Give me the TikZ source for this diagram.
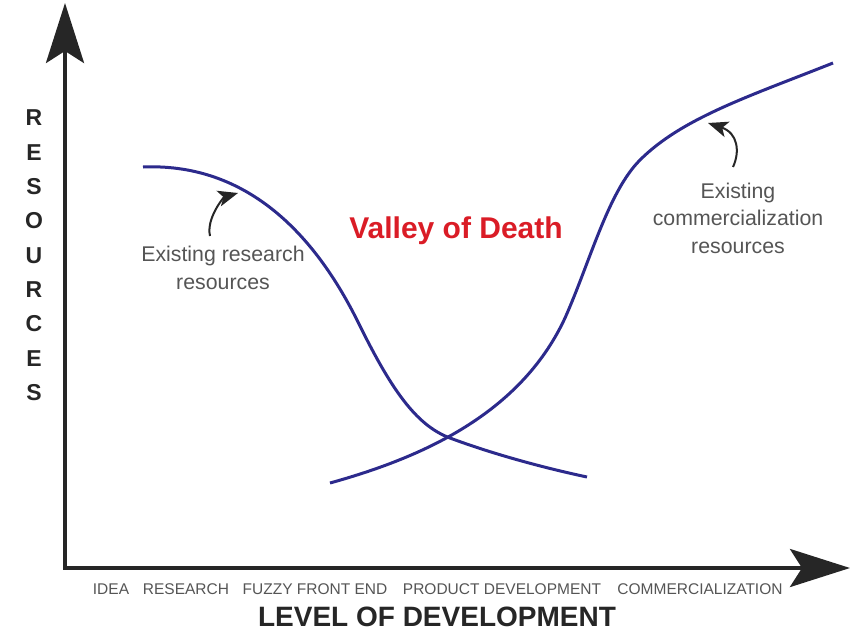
\documentclass[tikz,border=0pt]{standalone}
\usepackage{fontspec}
\setmainfont{Liberation Sans}
\usetikzlibrary{arrows.meta}
\definecolor{curveblue}{RGB}{44,42,140}
\definecolor{valleyred}{RGB}{218,28,38}
\definecolor{txtgray}{RGB}{85,85,85}
\tikzset{
  axis/.style={line width=4pt, draw=black!85, -{Stealth[length=60pt,width=38pt,inset=12pt]}},
  rescurve/.style={line width=3pt, draw=curveblue},
  note/.style={text=txtgray, font=\fontsize{21.3}{27.5}\selectfont, align=center, inner sep=0pt},
  tick/.style={text=txtgray, font=\fontsize{15.5}{18}\selectfont, inner sep=0pt, anchor=base},
  vlet/.style={font=\fontsize{23}{23}\bfseries\selectfont, text=black!85, inner sep=0pt},
  pointer/.style={line width=2pt, draw=black!85, -{Stealth[length=20pt,width=16pt,inset=5pt]}}
}
\begin{document}
\begin{tikzpicture}[x=1pt,y=-1pt]
\useasboundingbox (0,0) rectangle (851,632);
% axes
\coordinate (O) at (65,568);
\coordinate (ytop) at (65,3);
\coordinate (xend) at (850,568);
\draw[axis] ([yshift=2pt]O) -- (ytop);
\draw[axis] ([xshift=-2pt]O) -- (xend);
% curves
\coordinate (r0) at (143,167);
\coordinate (r1) at (358,322);
\coordinate (cross) at (450,438);
\coordinate (r3) at (587,477);
\draw[rescurve] (r0) .. controls (240,163) and (310,225) .. (r1)
  .. controls (390,387) and (415,425) .. (cross)
  .. controls (490,453) and (540,467) .. (r3);
\coordinate (c0) at (330,483);
\coordinate (c1) at (565,318);
\coordinate (c3) at (640,160);
\coordinate (c4) at (833,63);
\draw[rescurve] (c0) .. controls (420,458) and (520,415) .. (c1)
  .. controls (590,262) and (608,192) .. (c3)
  .. controls (682,118) and (750,96) .. (c4);
% labels
\node[font=\fontsize{30}{31}\bfseries\selectfont, text=valleyred, inner sep=0pt] (valley) at (456,231) {Valley of Death};
\node[note] (resnote) at (223,268) {Existing research\\resources};
\node[note] (comnote) at (738,218) {Existing\\commercialization\\resources};
\coordinate (restail) at (210,236);
\coordinate (restip) at (238,193);
\coordinate (comtail) at (733,167);
\coordinate (comtip) at (708,123);
\draw[pointer] (restail) .. controls +(-4,-18) and +(-14,4) .. (restip);
\draw[pointer] (comtail) .. controls +(7,-15) and +(30,10) .. (comtip);
% ticks
\node[tick] (t1) at (111,594) {IDEA};
\node[tick] (t2) at (186,594) {RESEARCH};
\node[tick] (t3) at (315,594) {FUZZY FRONT END};
\node[tick] (t4) at (502,594) {PRODUCT DEVELOPMENT};
\node[tick] (t5) at (700,594) {COMMERCIALIZATION};
\node[font=\fontsize{28}{30}\bfseries\selectfont, text=black!85, inner sep=0pt] (xlabel) at (437,617) {LEVEL OF DEVELOPMENT};
% vertical label
\foreach \l [count=\i] in {R,E,S,O,U,R,C,E,S} {
  \node[vlet] (v\i) at (34,{118+34.3*(\i-1)}) {\l};
}
\end{tikzpicture}
\end{document}
